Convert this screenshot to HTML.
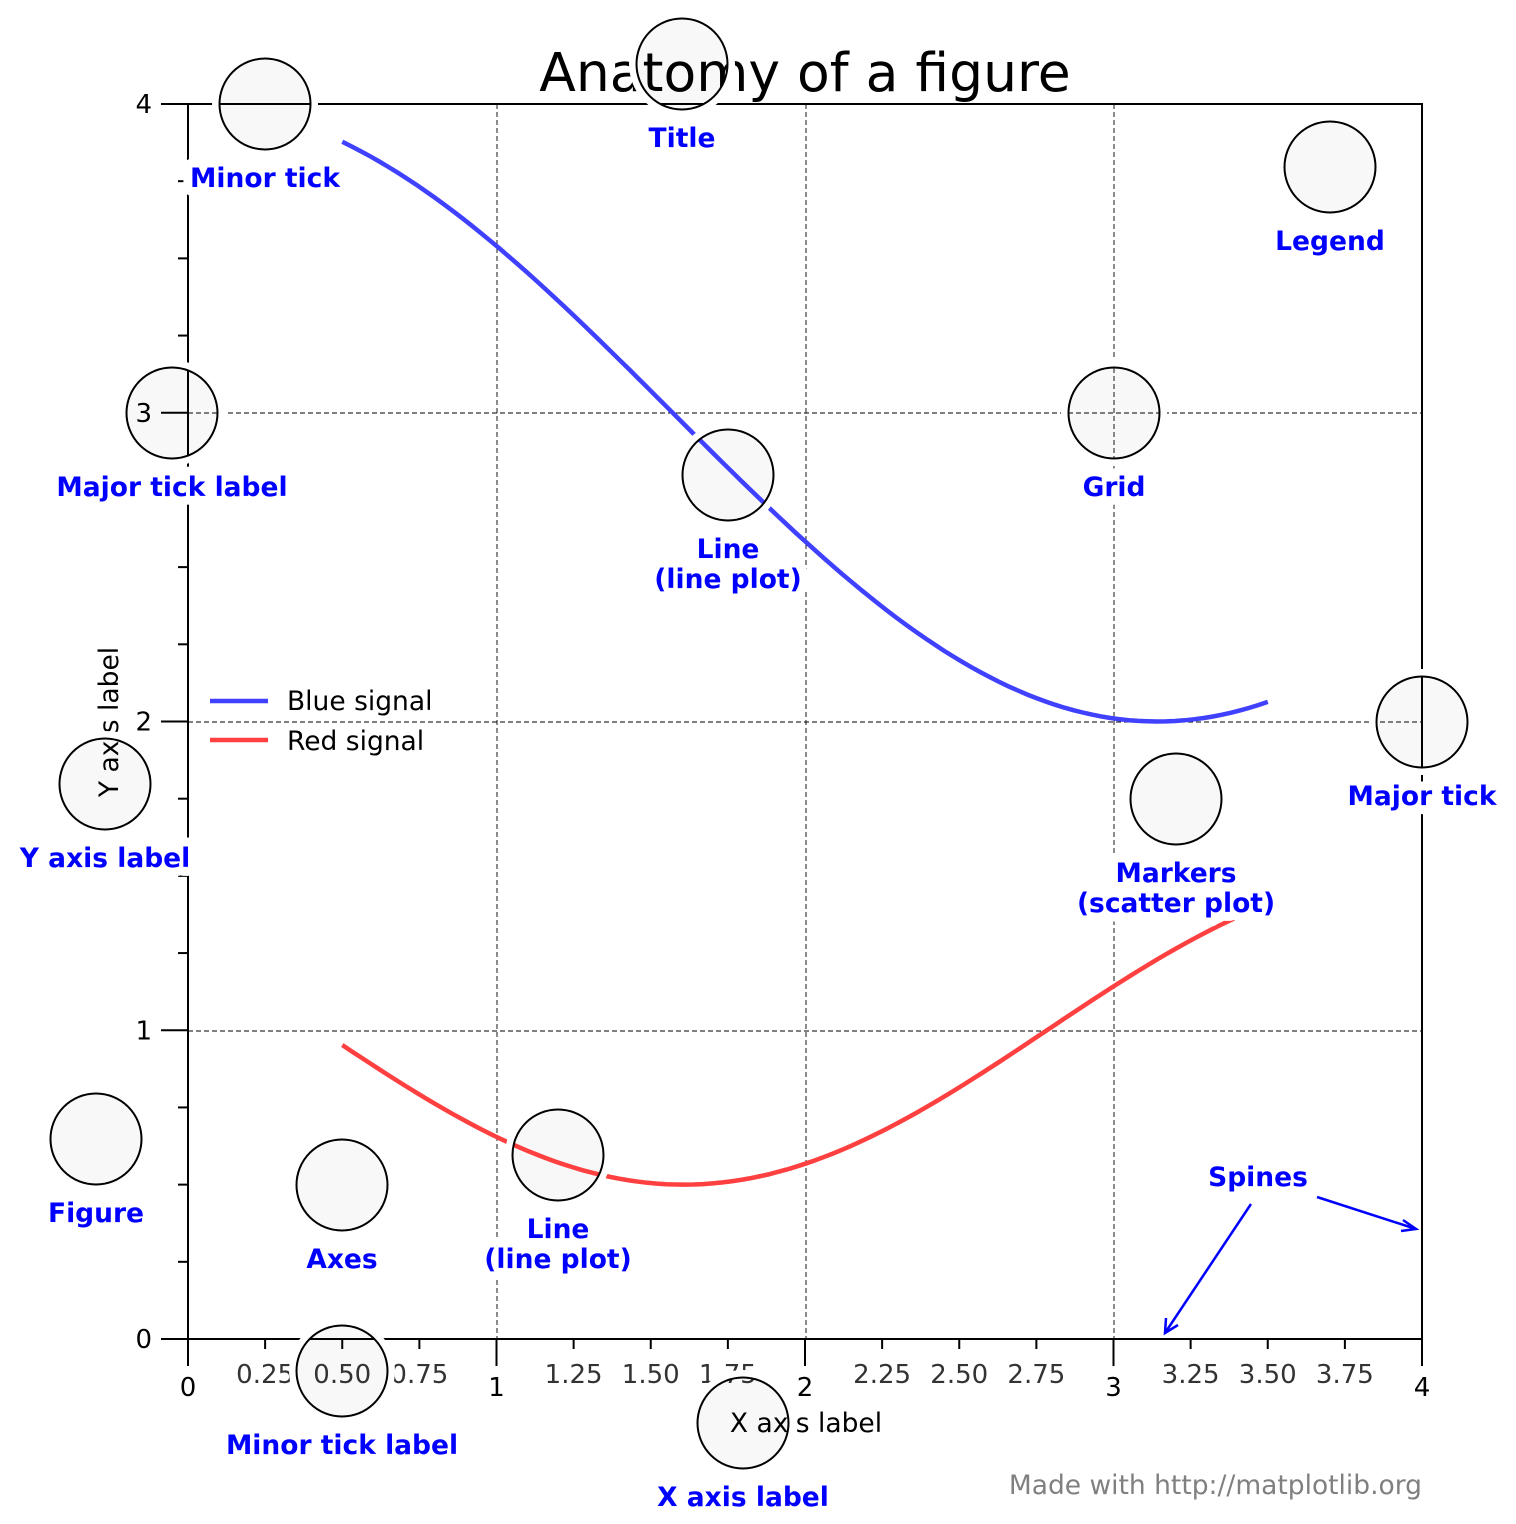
<!DOCTYPE html>
<html><head><meta charset="utf-8"><style>
html,body{margin:0;padding:0;background:#fff}
svg{display:block}
text{font-family:"DejaVu Sans","Liberation Sans",sans-serif}
.lab{fill:#0000ff;font-weight:bold;font-size:26.5px;text-anchor:middle;stroke:#fff;stroke-width:18px;paint-order:stroke;stroke-linejoin:round}
.mj{font-size:26px;fill:#000}
.mn{font-size:26px;fill:#333}
.cf{fill:#f8f8f8}
.c{fill:none;stroke:#000;stroke-width:2}
.ch{fill:none;stroke:#fff;stroke-width:8}
</style></head><body>
<svg id="s" width="1516" height="1524" viewBox="0 0 1516 1524" xmlns="http://www.w3.org/2000/svg">
<rect width="1516" height="1524" fill="#fff"/>
<g id="cfill"></g>
<g stroke="#000" stroke-width="0.9" stroke-dasharray="5,3">
<line x1="497" y1="104" x2="497" y2="1339"/><line x1="806" y1="104" x2="806" y2="1339"/><line x1="1114" y1="104" x2="1114" y2="1339"/>
<line x1="188" y1="413" x2="1422" y2="413"/><line x1="188" y1="722" x2="1422" y2="722"/><line x1="188" y1="1031" x2="1422" y2="1031"/>
</g>
<path id="blue" fill="none" stroke="#4040ff" stroke-width="4.5"/>
<path id="red" fill="none" stroke="#ff4040" stroke-width="4.5"/>
<g id="ticks" stroke="#000" stroke-width="2"></g>
<rect x="188" y="104" width="1234" height="1235" fill="none" stroke="#000" stroke-width="2"/>
<g id="tl"></g>
<text x="805" y="91" font-size="53.5" text-anchor="middle">Anatomy of a figure</text>
<text x="806" y="1432" font-size="26.5" text-anchor="middle">X axis label</text>
<text transform="translate(118,722) rotate(-90)" font-size="26.5" text-anchor="middle">Y axis label</text>
<line x1="210" y1="701" x2="268" y2="701" stroke="#4040ff" stroke-width="4.5"/>
<line x1="210" y1="740" x2="268" y2="740" stroke="#ff4040" stroke-width="4.5"/>
<text x="287" y="710" font-size="26.5">Blue signal</text>
<text x="287" y="750" font-size="26.5">Red signal</text>
<text x="1422" y="1494" font-size="26.5" fill="#808080" text-anchor="end">Made with http://matplotlib.org</text>
<g id="circ"></g>
<g stroke="#0000ff" stroke-width="2.5" fill="none">
<line x1="1251" y1="1204" x2="1165" y2="1333"/><polyline points="1166,1318 1165,1333 1178,1325"/>
<line x1="1317" y1="1197" x2="1416" y2="1229"/><polyline points="1403,1220 1416,1229 1401,1231"/>
</g>
<text class="lab" x="1258" y="1186">Spines</text>
</svg>
<script>
function X(v){return 188+v*308.5}function Y(v){return 1339-v*308.75}
var b="",r="";for(var i=0;i<=100;i++){var x=0.5+3*i/100;b+=(i?"L":"M")+X(x).toFixed(1)+","+Y(3+Math.cos(x)).toFixed(1);r+=(i?"L":"M")+X(x).toFixed(1)+","+Y(1+Math.cos(1+x/0.75)/2).toFixed(1);}
document.getElementById('blue').setAttribute('d',b);document.getElementById('red').setAttribute('d',r);
var t="",tl="";
for(var i=0;i<=16;i++){var v=i/4,x=X(v),y=Y(v),maj=(i%4==0);
t+='<line x1="'+x+'" y1="1339" x2="'+x+'" y2="'+(1339+(maj?27:10))+'"/>';
t+='<line x1="188" y1="'+y+'" x2="'+(188-(maj?27:10))+'" y2="'+y+'"/>';
if(maj){tl+='<text class="mj" x="'+x+'" y="1396" text-anchor="middle">'+(i/4)+'</text>';tl+='<text class="mj" x="152" y="'+(y+9)+'" text-anchor="end">'+(i/4)+'</text>';}
else tl+='<text class="mn" x="'+x+'" y="1383" text-anchor="middle">'+v.toFixed(2)+'</text>';}
document.getElementById('ticks').innerHTML=t;document.getElementById('tl').innerHTML=tl;
var C=[[265,104,["Minor tick"]],[682,64,["Title"]],[1330,167,["Legend"]],[172,413,["Major tick label"]],[1114,413,["Grid"]],[728,475,["Line","(line plot)"]],[1422,722,["Major tick"]],[105,784,["Y axis label"]],[1176,799,["Markers","(scatter plot)"]],[96,1139,["Figure"]],[342,1185,["Axes"]],[558,1155,["Line","(line plot)"]],[342,1371,["Minor tick label"]],[743,1423,["X axis label"]]];
var h="",f="";C.forEach(function(c){f+='<circle class="cf" cx="'+c[0]+'" cy="'+c[1]+'" r="45.5"/>';h+='<circle class="ch" cx="'+c[0]+'" cy="'+c[1]+'" r="49"/><circle class="c" cx="'+c[0]+'" cy="'+c[1]+'" r="45.5"/>';});
C.forEach(function(c){c[2].forEach(function(l,k){h+='<text class="lab" x="'+c[0]+'" y="'+(c[1]+83+k*30)+'">'+l+'</text>';});});
document.getElementById('cfill').innerHTML=f;document.getElementById('circ').innerHTML=h;
</script>
</body></html>
